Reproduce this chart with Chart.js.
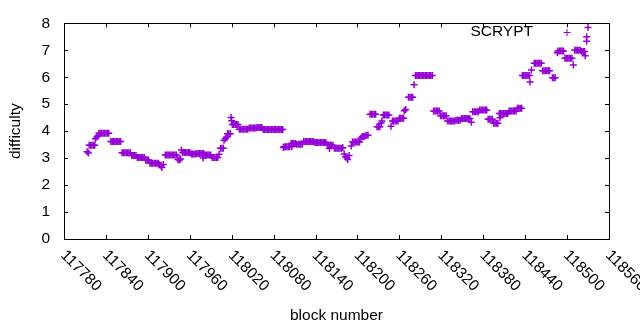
<!DOCTYPE html>
<html>
<head>
<meta charset="utf-8">
<script src="https://cdn.jsdelivr.net/npm/chart.js@4/dist/chart.umd.min.js"></script>
<style>
  html, body { margin: 0; padding: 0; background: #fff; }
  canvas { display: block; }
</style>
</head>
<body>
<canvas id="difficultyChart" width="640" height="330"></canvas>
<script>
// block number of each plotted point
const blocks = [
  117813,117815,117816,117818,117820,117822,117824,117825,117827,117829,
  117830,117832,117834,117836,117838,117840,117842,117844,
  117847,117849,117851,117853,117855,117857,117859,117861,
  117863,117865,117867,117869,117871,117873,117875,
  117877,117879,117881,117883,117885,117887,117889,117891,117893,117895,
  117897,117899,117901,117903,117905,117907,117909,117911,117913,117915,
  117917,117919,117920,117922,
  117925,117927,117929,117931,117933,117935,117937,117939,117941,
  117943,117945,117947,117948,117950,117952,117954,117956,117958,117960,
  117962,117964,117966,117968,117970,117972,117974,117976,117978,117980,117979,
  117982,117984,117986,117988,117990,117992,117994,117996,117998,118000,
  118002,118004,118006,118008,118009,118011,118013,118014,118016,118018,
  118019,118020,118021,118023,118025,118027,118029,
  118031,118033,118035,118037,118039,118041,118043,
  118045,118047,118049,118051,118053,118055,118057,118059,118061,118063,
  118065,118067,118069,118071,118073,118075,118077,118079,118081,118083,118085,118087,118089,118091,118093,
  118094,118095,118097,118099,118101,118103,118105,118107,118109,118111,118106,
  118113,118115,118117,118119,118121,
  118123,118125,118127,118129,118131,118133,118135,118137,
  118139,118141,118143,118145,118147,118149,118151,118153,118155,
  118157,118159,118161,118163,118165,118160,
  118167,118169,118171,118173,118175,118177,118179,
  118181,118183,118185,118186,118188,118191,
  118193,118195,118197,118199,118201,118203,
  118205,118207,118209,118211,118213,118215,
  118218,118220,118222,118224,118226,118228,118230,118232,118234,118235,
  118237,118239,118241,118243,118245,118248,
  118250,118252,118254,118256,118258,118260,118262,118264,118266,118267,118269,
  118273,118275,118277,118279,118281,
  118283,118285,118287,118289,118291,118293,118295,118297,118299,118301,118303,118305,118307,
  118309,118311,118313,118315,118317,118319,118321,118323,118325,118327,
  118329,118331,118333,118335,118337,118339,118341,118343,118345,118347,
  118349,118351,118353,118355,118357,118359,118361,118363,
  118365,118367,118369,118371,118373,118375,118377,118379,118381,118383,118385,
  118387,118389,118391,118393,118395,118397,118399,118401,118404,
  118403,118405,118407,118409,118411,118413,118415,
  118417,118419,118421,118423,118425,118427,118429,118431,118433,118435,
  118436,118438,118440,118442,118444,118446,118447,118449,
  118453,118455,118457,118459,118461,118463,
  118465,118467,118469,118471,118473,118475,118479,118481,118483,
  118486,118487,118489,118491,118493,118495,
  118497,118499,118501,118503,118505,118507,118509,
  118511,118513,118515,118517,118519,118521,118523,118525,118526,
  118528,118528,118530
];

// difficulty at each of those blocks
const difficulty = [
  3.24,3.19,3.48,3.48,3.48,3.48,3.48,3.72,3.78,3.84,
  3.92,3.92,3.92,3.92,3.92,3.92,3.92,3.92,
  3.62,3.62,3.62,3.62,3.62,3.62,3.62,3.62,
  3.2,3.2,3.2,3.2,3.2,3.2,3.2,
  3.1,3.1,3.1,3.1,3.02,3.02,3.02,3.02,3.02,3.02,
  2.93,2.93,2.93,2.81,2.81,2.81,2.81,2.81,2.81,2.81,
  2.75,2.72,2.65,2.76,
  3.12,3.12,3.12,3.12,3.12,3.12,3.12,3.12,3.12,
  2.95,2.93,2.97,3.30,3.21,3.21,3.21,3.21,3.21,3.21,
  3.15,3.15,3.15,3.15,3.17,3.17,3.17,3.17,3.17,3.17,3.0,
  3.12,3.12,3.12,3.12,3.12,3.02,3.02,3.02,3.02,3.02,
  3.14,3.37,3.37,3.37,3.66,3.72,3.78,3.9,3.9,3.9,
  4.51,4.39,4.25,4.25,4.25,4.25,4.25,
  4.07,4.07,4.07,4.07,4.07,4.07,4.07,
  4.12,4.12,4.12,4.12,4.12,4.12,4.14,4.14,4.14,4.14,
  4.06,4.06,4.06,4.06,4.06,4.06,4.06,4.06,4.06,4.06,4.06,4.06,4.06,4.06,4.06,
  3.39,3.42,3.42,3.42,3.42,3.42,3.54,3.54,3.54,3.54,3.42,
  3.51,3.51,3.51,3.51,3.51,
  3.62,3.62,3.62,3.62,3.62,3.62,3.62,3.62,
  3.58,3.58,3.58,3.58,3.58,3.58,3.58,3.58,3.58,
  3.48,3.48,3.48,3.48,3.48,3.36,
  3.37,3.37,3.37,3.37,3.37,3.37,3.38,
  3.15,3.05,3.0,2.95,3.1,3.45,
  3.6,3.6,3.6,3.6,3.6,3.6,
  3.75,3.8,3.8,3.82,3.85,3.85,
  4.63,4.63,4.63,4.63,4.63,4.16,4.16,4.16,4.3,4.38,
  4.6,4.6,4.6,4.6,4.6,4.18,
  4.38,4.38,4.38,4.38,4.38,4.48,4.48,4.48,4.48,4.76,4.8,
  5.26,5.26,5.26,5.26,5.72,
  6.06,6.06,6.06,6.06,6.06,6.06,6.06,6.06,6.06,6.06,6.06,6.06,6.06,
  4.75,4.75,4.75,4.75,4.75,4.57,4.57,4.57,4.57,4.57,
  4.38,4.38,4.38,4.38,4.38,4.38,4.4,4.4,4.4,4.4,
  4.47,4.47,4.47,4.47,4.47,4.47,4.47,4.33,
  4.72,4.72,4.72,4.72,4.72,4.78,4.78,4.78,4.78,4.78,4.78,
  4.44,4.44,4.44,4.44,4.29,4.29,4.29,4.29,4.5,
  4.65,4.65,4.65,4.65,4.65,4.65,4.65,
  4.75,4.75,4.75,4.75,4.75,4.75,4.85,4.85,4.85,4.85,
  6.06,6.06,6.06,6.06,6.06,6.06,5.82,6.27,
  6.52,6.52,6.52,6.52,6.52,6.52,
  6.24,6.24,6.24,6.24,6.24,6.24,5.98,5.98,5.98,
  6.91,6.97,6.97,6.97,6.97,6.97,
  6.7,6.7,6.7,6.7,6.7,6.7,6.45,
  7.0,7.0,7.0,7.0,7.0,6.95,6.95,6.95,6.8,
  7.5,7.33,7.84
];

const seriesName = 'SCRYPT';
const xTickStart = 117780, xTickEnd = 118560, xTickStep = 60;
const yTicks = [0, 1, 2, 3, 4, 5, 6, 7, 8];

const purple = '#9400d3';
const font = "15.5px 'Liberation Sans', Arial, sans-serif";

// gnuplot style frame: box, inward ticks on all sides, slanted x labels, key
const gnuplotFrame = {
    id: 'gnuplotFrame',
    afterDraw(chart) {
        const ctx = chart.ctx;
        const a = chart.chartArea;
        const xs = chart.scales.x, ys = chart.scales.y;
        const tl = 4;
        ctx.save();
        ctx.strokeStyle = '#000';
        ctx.lineWidth = 1;
        ctx.beginPath();
        xs.ticks.forEach(t => {
            const x = Math.round(xs.getPixelForValue(t.value)) + 0.5;
            ctx.moveTo(x, a.bottom); ctx.lineTo(x, a.bottom - tl);
            ctx.moveTo(x, a.top); ctx.lineTo(x, a.top + tl);
        });
        ys.ticks.forEach(t => {
            const y = Math.round(ys.getPixelForValue(t.value)) + 0.5;
            ctx.moveTo(a.left, y); ctx.lineTo(a.left + tl, y);
            ctx.moveTo(a.right, y); ctx.lineTo(a.right - tl, y);
        });
        ctx.stroke();
        ctx.strokeRect(Math.round(a.left) + 0.5, Math.round(a.top) + 0.5,
                       Math.round(a.right - a.left), Math.round(a.bottom - a.top));

        // x tick labels, rotated 45 degrees clockwise
        ctx.fillStyle = '#000';
        ctx.font = font;
        ctx.textAlign = 'left';
        ctx.textBaseline = 'middle';
        xs.ticks.forEach(t => {
            const x = xs.getPixelForValue(t.value);
            ctx.save();
            ctx.translate(x - 1, a.bottom + 14);
            ctx.rotate(Math.PI / 4);
            ctx.fillText(String(t.value), 0, 0);
            ctx.restore();
        });

        // axis titles
        ctx.textAlign = 'center';
        ctx.fillText('block number', (a.left + a.right) / 2, 316);
        ctx.save();
        ctx.translate(16, (a.top + a.bottom) / 2);
        ctx.rotate(-Math.PI / 2);
        ctx.fillText('difficulty', 0, 0);
        ctx.restore();

        // key
        ctx.textAlign = 'right';
        ctx.fillText(seriesName, 533, 32);
        ctx.strokeStyle = purple;
        ctx.beginPath();
        ctx.moveTo(563.5, 32.5); ctx.lineTo(570.5, 32.5);
        ctx.moveTo(567, 29); ctx.lineTo(567, 36);
        ctx.stroke();
        ctx.restore();
    }
};

new Chart(document.getElementById('difficultyChart').getContext('2d'), {
    type: 'scatter',
    data: {
        datasets: [{
            label: seriesName,
            data: blocks.map((b, i) => ({ x: b, y: difficulty[i] })),
            pointStyle: 'cross',
            pointRadius: 3.5,
            pointHoverRadius: 3.5,
            borderWidth: 1.5,
            borderColor: purple,
            backgroundColor: purple,
            showLine: false
        }]
    },
    options: {
        responsive: false,
        animation: false,
        layout: { padding: { top: 19, right: 31, left: 0, bottom: 0 } },
        plugins: {
            legend: { display: false },
            tooltip: { enabled: false }
        },
        scales: {
            x: {
                type: 'linear',
                min: xTickStart,
                max: xTickEnd,
                afterBuildTicks: (scale) => {
                    const t = [];
                    for (let v = xTickStart; v <= xTickEnd; v += xTickStep) t.push({ value: v });
                    scale.ticks = t;
                },
                ticks: { display: false },
                grid: { display: false, drawTicks: false },
                border: { display: false },
                afterFit: (scale) => { scale.height = 91; }
            },
            y: {
                min: 0,
                max: 8,
                afterBuildTicks: (scale) => { scale.ticks = yTicks.map(v => ({ value: v })); },
                ticks: {
                    color: '#000',
                    font: { family: "'Liberation Sans', Arial, sans-serif", size: 15.5 },
                    padding: 14
                },
                grid: { display: false, drawTicks: false },
                border: { display: false },
                afterFit: (scale) => { scale.width = 64; }
            }
        }
    },
    plugins: [gnuplotFrame]
});
</script>
</body>
</html>
